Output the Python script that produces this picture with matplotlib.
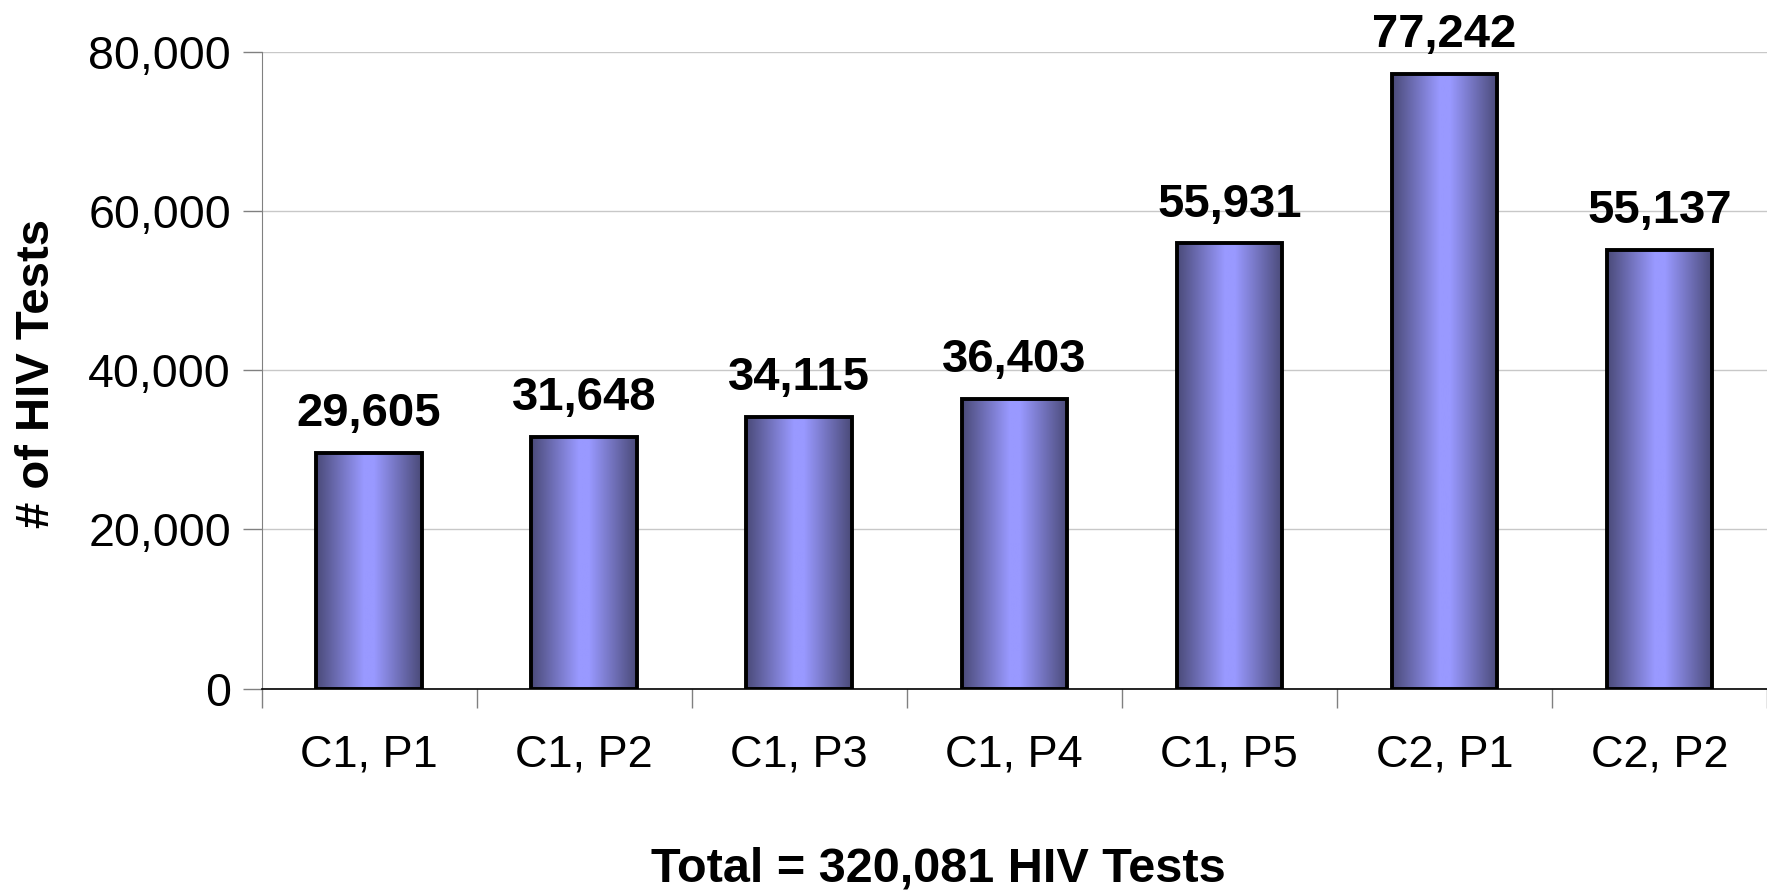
import numpy as np
import matplotlib.pyplot as plt
from matplotlib.colors import LinearSegmentedColormap

categories = ['C1, P1', 'C1, P2', 'C1, P3', 'C1, P4', 'C1, P5', 'C2, P1', 'C2, P2']
tests = [29605, 31648, 34115, 36403, 55931, 77242, 55137]
total_label = 'Total = 320,081 HIV Tests'

plt.rcParams['font.family'] = ['Liberation Sans', 'DejaVu Sans']

fig = plt.figure(figsize=(17.67, 8.96), dpi=100)
ax = fig.add_axes([0.148, 0.2315, 0.852, 0.7105])

# shaded bar fill: dark edges, light middle
cmap = LinearSegmentedColormap.from_list(
    'bar', [(0.0, '#4a4a78'), (0.45, '#9999ff'), (0.55, '#9999ff'), (1.0, '#4a4a78')])
grad = np.linspace(0, 1, 256).reshape(1, -1)

x = np.arange(len(categories))
width = 0.49
bars = ax.bar(x, tests, width=width, facecolor='none', edgecolor='black',
              linewidth=2.8, zorder=3)
for b in bars:
    im = ax.imshow(grad, cmap=cmap, aspect='auto', zorder=2,
                   extent=[b.get_x(), b.get_x() + b.get_width(), 0, b.get_height()])
    im.set_clip_path(b)

for xi, v in zip(x, tests):
    ax.annotate(f'{v:,}', (xi, v), xytext=(0, 12), textcoords='offset points',
                ha='center', va='bottom', fontsize=34, fontweight='bold')

ax.set_xlim(-0.5, len(categories) - 0.5)
ax.set_ylim(0, 80000)
ax.set_yticks([0, 20000, 40000, 60000, 80000])
ax.set_yticklabels([f'{t:,}' for t in [0, 20000, 40000, 60000, 80000]])
ax.set_xticks(x)
ax.set_xticklabels(categories)
ax.set_xticks(np.arange(-0.5, len(categories)), minor=True)
ax.tick_params(axis='x', which='major', length=0, pad=33, labelsize=32.5)
ax.tick_params(axis='x', which='minor', length=14, width=1, color='#808080')
ax.tick_params(axis='y', length=14, width=1, color='#808080', labelsize=33.5, pad=8)

ax.yaxis.grid(True, color='#c8c8c8', linewidth=1)
ax.set_axisbelow(True)
for s in ['top', 'right']:
    ax.spines[s].set_visible(False)
ax.spines['left'].set_color('#808080')
ax.spines['bottom'].set_color('black')
ax.spines['bottom'].set_linewidth(1.2)

fig.text(0.021, 0.583, '# of HIV Tests', rotation=90, ha='center', va='center',
         fontsize=34, fontweight='bold')
fig.text(0.531, 0.030, total_label, ha='center', va='center',
         fontsize=35, fontweight='bold')

fig.savefig('out.png', dpi=100)
